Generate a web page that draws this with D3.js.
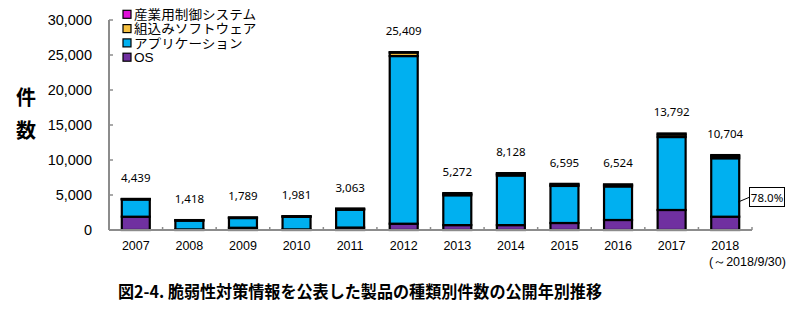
<!DOCTYPE html>
<html><head><meta charset="utf-8">
<script src="https://cdn.jsdelivr.net/npm/d3@7"></script>
<style>body{margin:0;background:#fff}svg{display:block}</style>
</head><body>
<script>
const years = ["2007","2008","2009","2010","2011","2012","2013","2014","2015","2016","2017","2018"];
const osVals   = [1900, 90, 320, 90, 350, 900, 700, 700, 1000, 1430, 2860, 1900];
const appVals  = [2459, 1248, 1389, 1791, 2553, 23949, 4262, 7088, 5295, 4794, 10422, 8349];
const embVals  = [60, 60, 60, 70, 110, 500, 200, 230, 200, 200, 350, 300];
const indVals  = [20, 20, 20, 30, 50, 60, 110, 110, 100, 100, 160, 155];
const totals   = [4439, 1418, 1789, 1981, 3063, 25409, 5272, 8128, 6595, 6524, 13792, 10704];
const yTicks   = [0, 5000, 10000, 15000, 20000, 25000, 30000];
const seriesNames = ["OS", "アプリケーション", "組込みソフトウェア", "産業用制御システム"];
const seriesColors = ["#7030A0", "#00B0F0", "#F5C040", "#E010D8"];
const subLabel = "(～2018/9/30)";
const shareLabel = "78.0%";
const title = "図2-4. 脆弱性対策情報を公表した製品の種類別件数の公開年別推移";
const yTitle = ["件", "数"];

const W = 797, H = 324;
const svg = d3.select("body").append("svg").attr("width", W).attr("height", H);

const x = d3.scaleBand().domain(years).range([109, 752]).paddingInner(0.4775).paddingOuter(0.23875);
const y = d3.scaleLinear().domain([0, 30000]).range([230, 20]);

const rows = years.map((yr, i) => ({year: yr, OS: osVals[i], "アプリケーション": appVals[i], "組込みソフトウェア": embVals[i], "産業用制御システム": indVals[i]}));
const stack = d3.stack().keys(seriesNames)(rows);

// axes lines
const axisColor = "#8c8c8c";
svg.append("line").attr("x1", 109).attr("x2", 109).attr("y1", y(30000)).attr("y2", y(0)).attr("stroke", axisColor).attr("stroke-width", 2);
svg.selectAll(".yt").data(yTicks).enter().append("line")
  .attr("x1", 109).attr("x2", 113).attr("y1", d => y(d)).attr("y2", d => y(d)).attr("stroke", axisColor).attr("stroke-width", 1.5);
svg.selectAll(".yl").data(yTicks).enter().append("text")
  .attr("x", 92).attr("y", d => y(d) + 5).attr("text-anchor", "end")
  .style("font-family", "'Liberation Sans', Arial, sans-serif").style("font-size", "14.5px").attr("fill", "#000")
  .text(d => d3.format(",")(d));

// bars
const g = svg.append("g");
stack.forEach((s, si) => {
  g.selectAll(".s" + si).data(s).enter().append("rect")
    .attr("x", d => x(d.data.year)).attr("width", x.bandwidth())
    .attr("y", d => y(d[1])).attr("height", d => y(d[0]) - y(d[1]))
    .attr("fill", seriesColors[si]).attr("stroke", "#000").attr("stroke-width", 2.2);
});

// x axis
svg.append("line").attr("x1", 109).attr("x2", 752).attr("y1", y(0)).attr("y2", y(0)).attr("stroke", axisColor).attr("stroke-width", 2);
const step = x.step();
svg.selectAll(".xt").data(years).enter().append("line")
  .attr("x1", d => x(d) + x.bandwidth() + (step - x.bandwidth()) / 2)
  .attr("x2", d => x(d) + x.bandwidth() + (step - x.bandwidth()) / 2)
  .attr("y1", y(0) - 3).attr("y2", y(0)).attr("stroke", axisColor).attr("stroke-width", 1.5);
svg.selectAll(".xl").data(years).enter().append("text")
  .attr("x", d => x(d) + x.bandwidth() / 2).attr("y", 249.5).attr("text-anchor", "middle")
  .style("font-family", "'Liberation Sans', Arial, sans-serif").style("font-size", "12.5px").text(d => d);
svg.append("text").attr("x", 709).attr("y", 266)
  .style("font-family", "'Liberation Sans', Arial, sans-serif").style("font-size", "12.5px").text(subLabel);

// totals
svg.selectAll(".tl").data(years).enter().append("text")
  .attr("x", d => x(d) + x.bandwidth() / 2).attr("y", (d, i) => y(totals[i]) - 17).attr("text-anchor", "middle")
  .style("font-family", "'Noto Sans', sans-serif").style("font-size", "11.5px").text((d, i) => d3.format(",")(totals[i]));

// callout
const ax = x("2018") + x.bandwidth() - 1, ay = y(4000);
svg.append("line").attr("x1", ax).attr("y1", ay).attr("x2", 750).attr("y2", ay - 5).attr("stroke", "#000").attr("stroke-width", 1);
svg.append("rect").attr("x", 749.5).attr("y", 187.5).attr("width", 35).attr("height", 19).attr("fill", "#fff").attr("stroke", "#000").attr("stroke-width", 1);
svg.append("text").attr("x", 767).attr("y", 201.5).attr("text-anchor", "middle")
  .style("font-family", "'Noto Sans', sans-serif").style("font-size", "11.5px").text(shareLabel);

// legend (reverse order)
const legendOrder = [3, 2, 1, 0];
legendOrder.forEach((si, k) => {
  const ly = 14.3 + k * 14.3;
  svg.append("rect").attr("x", 123).attr("y", ly - 4).attr("width", 8).attr("height", 8)
    .attr("fill", seriesColors[si]).attr("stroke", "#000").attr("stroke-width", 1.2);
  const t = svg.append("text").attr("x", 134).attr("y", ly + 4.6)
    .style("font-family", "'Liberation Sans', 'Noto Sans CJK JP', sans-serif").style("font-size", "12.6px").text(seriesNames[si]);
  const len = t.node().getComputedTextLength();
  t.attr("textLength", len * 1.08).attr("lengthAdjust", "spacingAndGlyphs");
});

// y title
yTitle.forEach((t, i) => {
  svg.append("text").attr("x", 26).attr("y", 104.5 + i * 33).attr("text-anchor", "middle")
    .style("font-family", "'Noto Sans CJK JP', sans-serif").style("font-weight", "bold").style("font-size", "20px").text(t);
});

// title
svg.append("text").attr("x", 118).attr("y", 297.5).attr("textLength", 484).attr("lengthAdjust", "spacingAndGlyphs")
  .style("font-family", "'Noto Sans CJK JP', sans-serif").style("font-weight", "bold").style("font-size", "16.5px").text(title);
</script>
</body></html>
